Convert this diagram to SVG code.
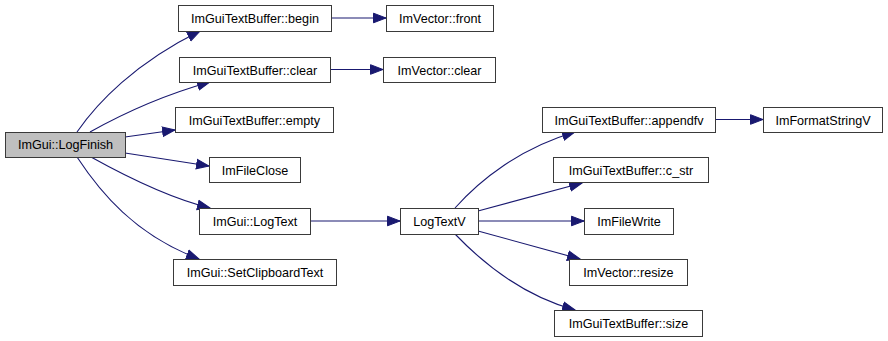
<svg xmlns="http://www.w3.org/2000/svg" width="888" height="341" viewBox="0 0 888 341">
  <style>
    .node rect { fill: #ffffff; stroke: #3a3a3a; stroke-width: 1; }
    .node.root rect { fill: #bfbfbf; }
    .node text { font-family: "Liberation Sans", Arial, sans-serif; font-size: 12.6px; fill: #000000; text-anchor: middle; }
    .edges path { fill: none; stroke: #191970; stroke-width: 1.1; marker-end: url(#arrow); }
  </style>
  <defs>
    <marker id="arrow" markerUnits="userSpaceOnUse" markerWidth="14" markerHeight="12" viewBox="0 0 14 12" refX="13" refY="6" orient="auto">
      <path d="M0.5,1.2 L13,6 L0.5,10.8 Z" fill="#191970" stroke="#191970" stroke-width="1"/>
    </marker>
  </defs>

  <rect width="888" height="341" fill="#ffffff"/>

  <!-- call edges -->
  <g id="edges" class="edges">
    <path d="M77,132 C97,103 135,63 200,31"/>
    <path d="M90,132 C115,118 160,96 210,82"/>
    <path d="M125,137 L175,130"/>
    <path d="M125,153 L209,166"/>
    <path d="M91,157 C118,172 165,197 210,208"/>
    <path d="M77,157 C100,192 135,235 199,259"/>
    <path d="M331,18 L386,18"/>
    <path d="M330,69.5 L383,69.5"/>
    <path d="M310,221 L400,221"/>
    <path d="M455,208 C480,180 520,148 575,132"/>
    <path d="M478,211 L582,183"/>
    <path d="M478,221 L584,221"/>
    <path d="M478,231 L580,259"/>
    <path d="M455,234 C478,258 520,295 575,310"/>
    <path d="M715,119.5 L763,119.5"/>
  </g>

  <!-- functions -->
  <g id="node-logfinish" class="node root">
    <rect x="5.5" y="132.5" width="120" height="25"/>
    <text x="65.5" y="149">ImGui::LogFinish</text>
  </g>
  <g id="node-textbuffer-begin" class="node">
    <rect x="178.5" y="5.5" width="153" height="26"/>
    <text x="255" y="23">ImGuiTextBuffer::begin</text>
  </g>
  <g id="node-textbuffer-clear" class="node">
    <rect x="179.5" y="57.5" width="151" height="25"/>
    <text x="255" y="74.5">ImGuiTextBuffer::clear</text>
  </g>
  <g id="node-textbuffer-empty" class="node">
    <rect x="175.5" y="107.5" width="158" height="25"/>
    <text x="254.5" y="124.5">ImGuiTextBuffer::empty</text>
  </g>
  <g id="node-fileclose" class="node">
    <rect x="209.5" y="157.5" width="91" height="25"/>
    <text x="255" y="174.5">ImFileClose</text>
  </g>
  <g id="node-logtext" class="node">
    <rect x="199.5" y="208.5" width="111" height="26"/>
    <text x="255" y="226">ImGui::LogText</text>
  </g>
  <g id="node-setclipboardtext" class="node">
    <rect x="173.5" y="259.5" width="163" height="26"/>
    <text x="255" y="277">ImGui::SetClipboardText</text>
  </g>
  <g id="node-vector-front" class="node">
    <rect x="386.5" y="5.5" width="107" height="26"/>
    <text x="440" y="23">ImVector::front</text>
  </g>
  <g id="node-vector-clear" class="node">
    <rect x="383.5" y="57.5" width="112" height="25"/>
    <text x="439.5" y="74.5">ImVector::clear</text>
  </g>
  <g id="node-logtextv" class="node">
    <rect x="400.5" y="208.5" width="78" height="26"/>
    <text x="439.5" y="226">LogTextV</text>
  </g>
  <g id="node-textbuffer-appendfv" class="node">
    <rect x="542.5" y="107.5" width="173" height="25"/>
    <text x="629" y="124.5">ImGuiTextBuffer::appendfv</text>
  </g>
  <g id="node-textbuffer-cstr" class="node">
    <rect x="553.5" y="157.5" width="155" height="25"/>
    <text x="631" y="174.5">ImGuiTextBuffer::c_str</text>
  </g>
  <g id="node-filewrite" class="node">
    <rect x="584.5" y="208.5" width="89" height="26"/>
    <text x="629" y="226">ImFileWrite</text>
  </g>
  <g id="node-vector-resize" class="node">
    <rect x="569.5" y="259.5" width="118" height="26"/>
    <text x="628.5" y="277">ImVector::resize</text>
  </g>
  <g id="node-textbuffer-size" class="node">
    <rect x="554.5" y="310.5" width="148" height="26"/>
    <text x="628.5" y="328">ImGuiTextBuffer::size</text>
  </g>
  <g id="node-formatstringv" class="node">
    <rect x="763.5" y="107.5" width="119" height="25"/>
    <text x="823" y="124.5">ImFormatStringV</text>
  </g>
</svg>
